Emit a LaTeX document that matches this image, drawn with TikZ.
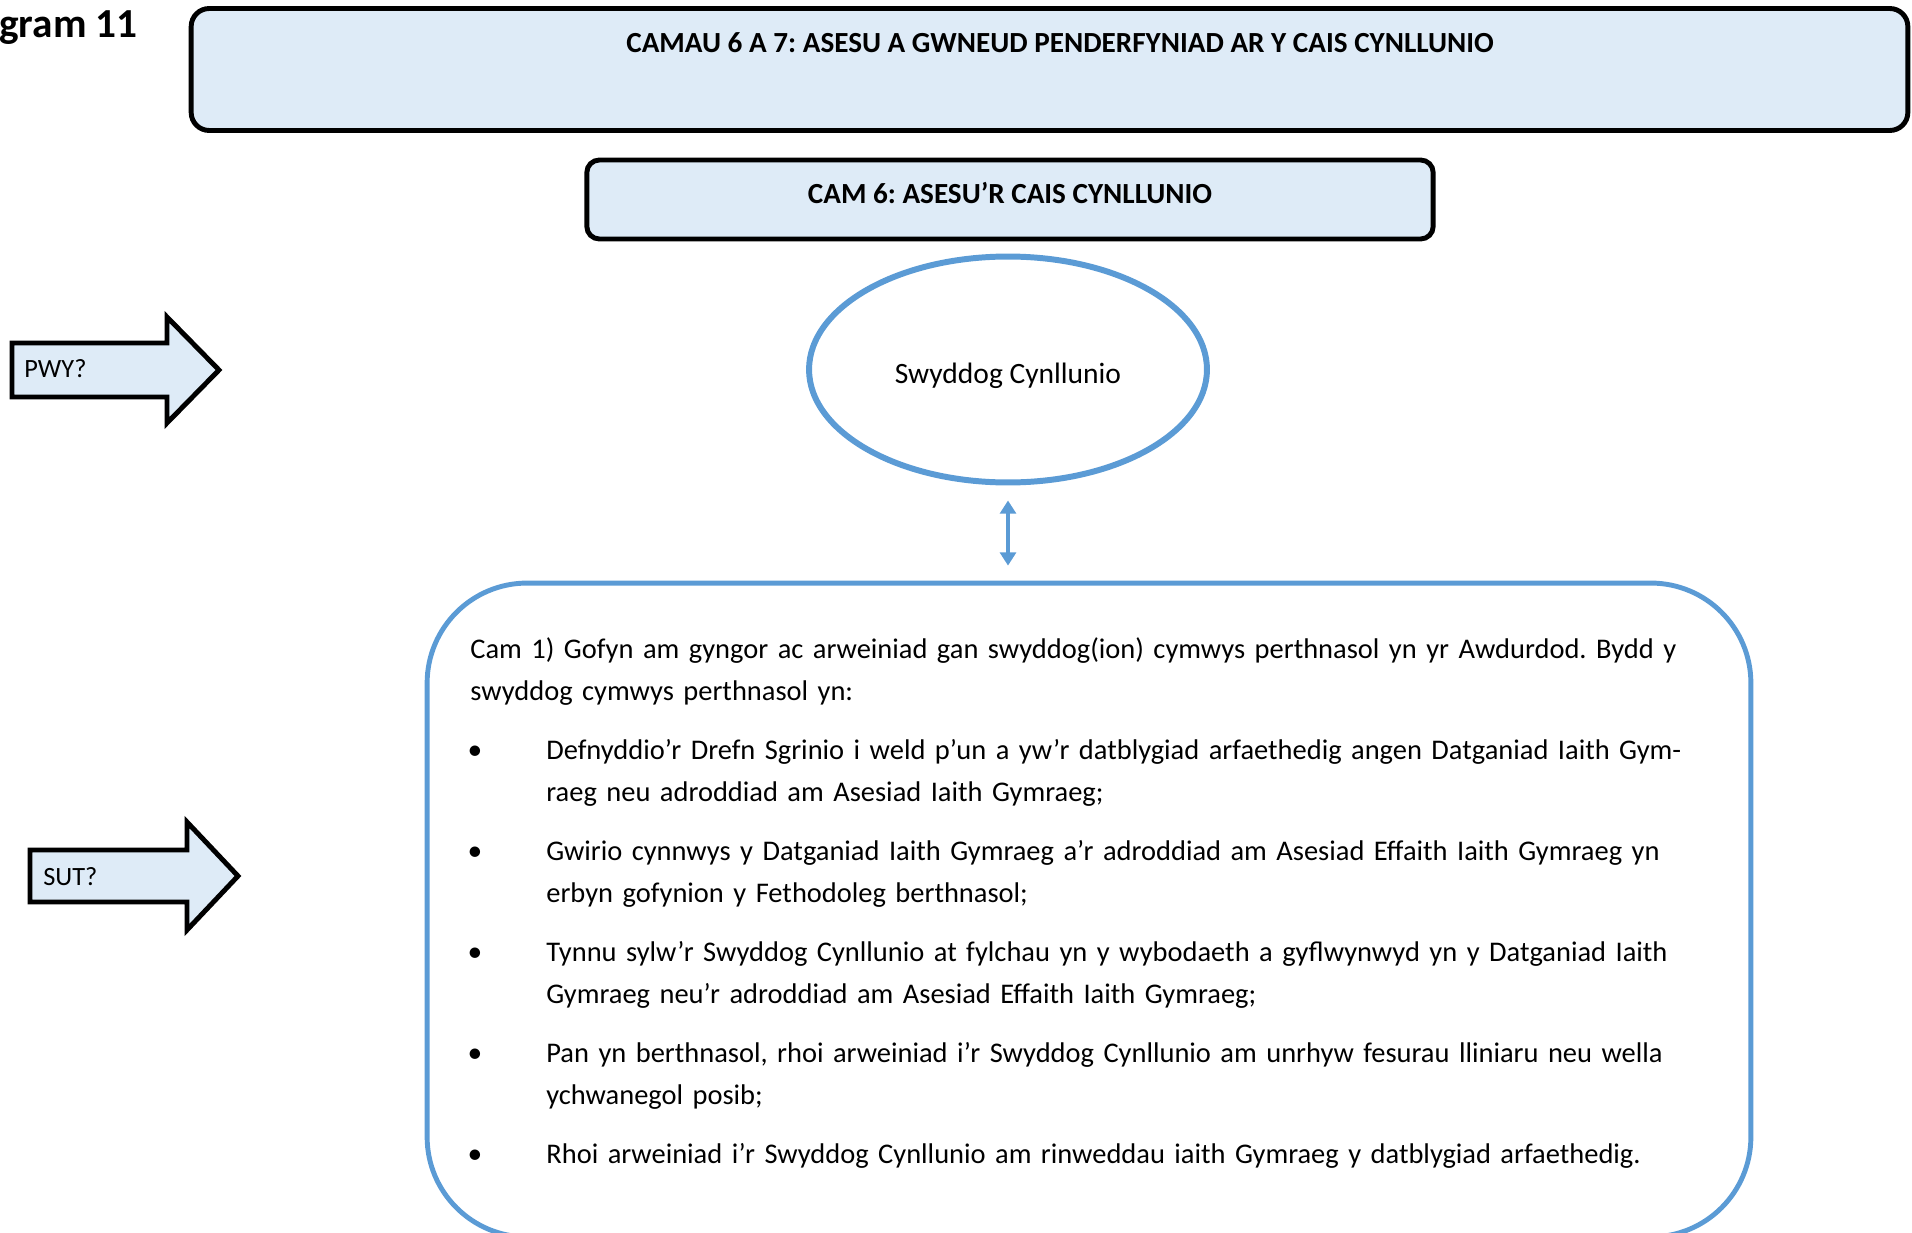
\documentclass[tikz,border=0pt]{standalone}
\usepackage{fontspec}
\setmainfont{Carlito}
\usetikzlibrary{arrows.meta,shapes.geometric,positioning}
\definecolor{paleBlue}{RGB}{222,235,247}
\definecolor{lineBlue}{RGB}{91,155,213}
\frenchspacing

\begin{document}
\begin{tikzpicture}[x=0.02cm, y=-0.02cm,
    stagebox/.style={draw=black, line width=2.8pt, fill=paleBlue, inner sep=0pt},
    pointer/.style={draw=black, line width=2.8pt, fill=paleBlue, line join=miter},
    bodytext/.style={font=\fontsize{16.2}{24.3}\selectfont, inner sep=0pt, anchor=base west, align=left}]
    \useasboundingbox (0,0) rectangle (1912,1233);
    \clip (0,0) rectangle (1912,1233);
    \node[font=\bfseries\fontsize{23.5}{27}\selectfont, inner sep=0pt, anchor=base west] (diagnum) at (-1,38) {gram 11};
    % headings
    \node[stagebox, rounded corners=0.36cm, minimum width=34.34cm, minimum height=2.44cm] (stages) at (1049.5,69.5) {};
    \node[font=\bfseries\fontsize{16.6}{19}\selectfont, inner sep=0pt, anchor=base] (stagestitle) at (1060,53) {CAMAU 6 A 7: ASESU A GWNEUD PENDERFYNIAD AR Y CAIS CYNLLUNIO};
    \node[stagebox, rounded corners=0.25cm, minimum width=16.93cm, minimum height=1.58cm, text height=8pt, text depth=4pt, font=\bfseries\fontsize{16.6}{19}\selectfont] (step6) at (1010,199.5) {CAM 6: ASESU’R CAIS CYNLLUNIO};
    % who? / how?
    \draw[pointer] (12,343) -- (167,343) -- (167,317) -- (219,370) -- (167,423) -- (167,397) -- (12,397) -- cycle;
    \node[font=\fontsize{15}{18}\selectfont, inner sep=0pt, anchor=base west] (who) at (24,377) {PWY?};
    \draw[pointer] (30,850) -- (187,850) -- (187,822) -- (238,876) -- (187,930) -- (187,902) -- (30,902) -- cycle;
    \node[font=\fontsize{15}{18}\selectfont, inner sep=0pt, anchor=base west] (how) at (43,885) {SUT?};
    % officer and steps
    \node[ellipse, draw=lineBlue, line width=3.4pt, minimum width=7.96cm, minimum height=4.52cm, inner sep=0pt, text height=16.5pt, text depth=0pt, font=\fontsize{16.8}{20}\selectfont] (officer) at (1008,369.5) {Swyddog Cynllunio};
    \node[draw=lineBlue, line width=2.8pt, rounded corners=2cm, minimum width=26.48cm, minimum height=13.08cm, inner sep=0pt] (steps) at (1089,910) {};
    \draw[lineBlue, line width=2.7pt, {Triangle[width=9pt,length=7.5pt]}-{Triangle[width=9pt,length=7.5pt]}, shorten <=0.3cm, shorten >=0.3cm] (officer.south) -- (officer.south |- steps.north);

    \node[bodytext, text width=25.5cm] (intro) at (470,658) {Cam 1) Gofyn am gyngor ac arweiniad gan swyddog(ion) cymwys perthnasol yn yr Awdurdod. Bydd y\\swyddog cymwys perthnasol yn:};
    \node[bodytext, text width=24cm] (item1) at (546,759) {Defnyddio’r Drefn Sgrinio i weld p’un a yw’r datblygiad arfaethedig angen Datganiad Iaith Gym-\\raeg neu adroddiad am Asesiad Iaith Gymraeg;};
    \node[bodytext, text width=24cm] (item2) at (546,860) {Gwirio cynnwys y Datganiad Iaith Gymraeg a’r adroddiad am Asesiad Effaith Iaith Gymraeg yn\\erbyn gofynion y Fethodoleg berthnasol;};
    \node[bodytext, text width=24cm] (item3) at (546,961) {Tynnu sylw’r Swyddog Cynllunio at fylchau yn y wybodaeth a gyflwynwyd yn y Datganiad Iaith\\Gymraeg neu’r adroddiad am Asesiad Effaith Iaith Gymraeg;};
    \node[bodytext, text width=24cm] (item4) at (546,1062) {Pan yn berthnasol, rhoi arweiniad i’r Swyddog Cynllunio am unrhyw fesurau lliniaru neu wella\\ychwanegol posib;};
    \node[bodytext, text width=24cm] (item5) at (546,1163) {Rhoi arweiniad i’r Swyddog Cynllunio am rinweddau iaith Gymraeg y datblygiad arfaethedig.};
    \foreach \n in {1,...,5} {
        \node[font=\fontsize{16.8}{20}\selectfont, inner sep=0pt, anchor=base] (dot\n) at (item\n.base west -| 475,0) {\textbullet};
    }
\end{tikzpicture}
\end{document}
